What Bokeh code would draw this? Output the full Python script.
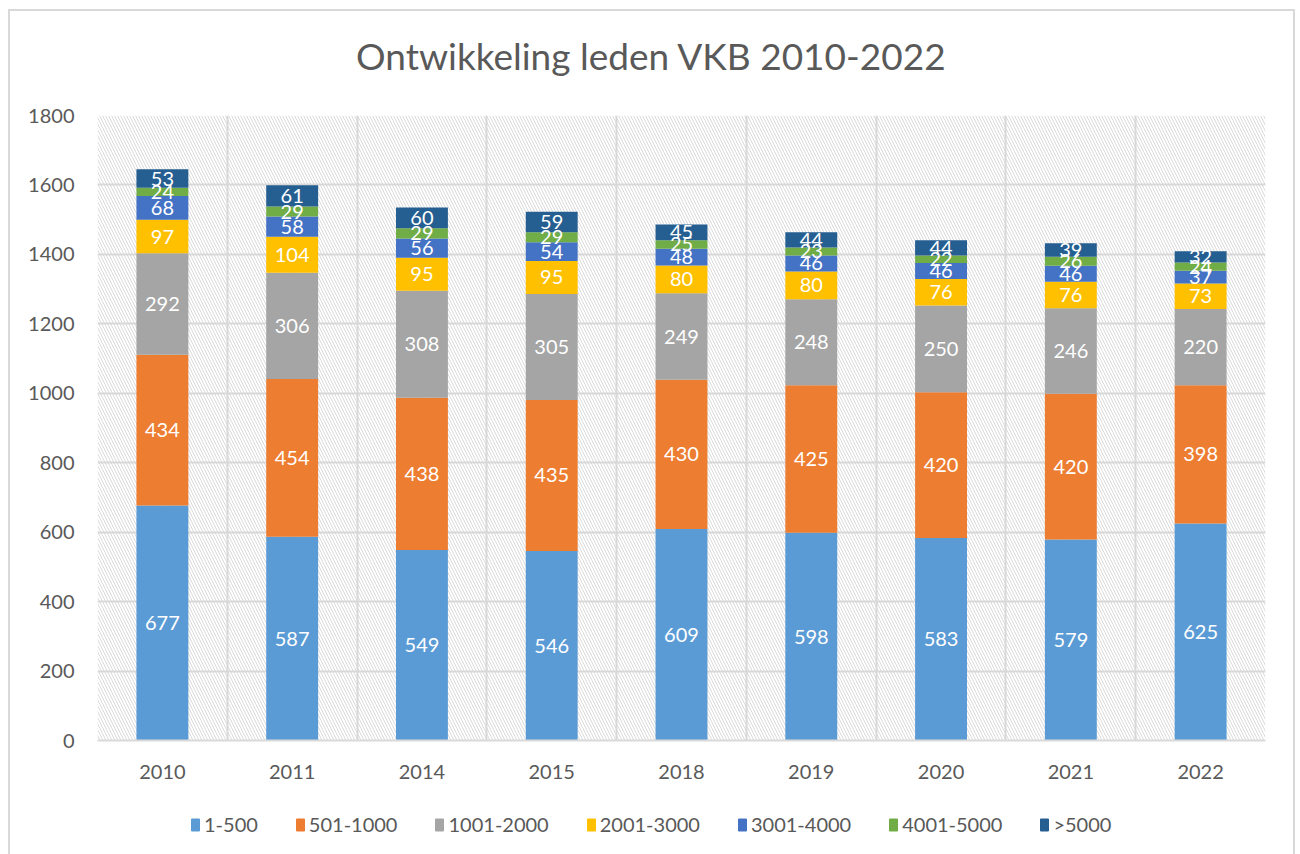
from bokeh.plotting import figure
from bokeh.layouts import column
from bokeh.models import ColumnDataSource, FixedTicker, Legend, LegendItem, Label
from bokeh.core.properties import value
from bokeh.embed import file_html
from bokeh.resources import INLINE

years = ["2010", "2011", "2014", "2015", "2018", "2019", "2020", "2021", "2022"]
series = ["1-500", "501-1000", "1001-2000", "2001-3000", "3001-4000", "4001-5000", ">5000"]
v_1_500 = [677, 587, 549, 546, 609, 598, 583, 579, 625]
v_501_1000 = [434, 454, 438, 435, 430, 425, 420, 420, 398]
v_1001_2000 = [292, 306, 308, 305, 249, 248, 250, 246, 220]
v_2001_3000 = [97, 104, 95, 95, 80, 80, 76, 76, 73]
v_3001_4000 = [68, 58, 56, 54, 48, 46, 46, 46, 37]
v_4001_5000 = [24, 29, 29, 29, 25, 23, 22, 26, 24]
v_gt_5000 = [53, 61, 60, 59, 45, 44, 44, 39, 32]
colors = ["#5B9BD5", "#ED7D31", "#A5A5A5", "#FFC000", "#4472C4", "#70AD47", "#255E91"]
yticks = [0, 200, 400, 600, 800, 1000, 1200, 1400, 1600, 1800]
title_text = "Ontwikkeling leden VKB 2010-2022"

values = [v_1_500, v_501_1000, v_1001_2000, v_2001_3000, v_3001_4000, v_4001_5000, v_gt_5000]
FONT = "Lato"
GRAY = "#595959"
W = 1283

xs = [i + 0.5 for i in range(len(years))]
data = {"x": xs}
keys = []
for k, (name, vals) in enumerate(zip(series, values)):
    key = f"s{k}"
    keys.append(key)
    data[key] = vals
src = ColumnDataSource(data)

# title strip
tf = figure(width=W, height=80, x_range=(0, 1), y_range=(0, 1),
            output_backend="svg", toolbar_location=None,
            x_axis_location=None, y_axis_location=None,
            min_border_left=0, min_border_right=0, min_border_top=0, min_border_bottom=0,
            outline_line_color=None, background_fill_color="white")
tf.grid.visible = False
tf.add_layout(Label(x=554, y=36, x_units="screen", y_units="screen", text=title_text,
                    text_align="center", text_baseline="middle",
                    text_font=FONT, text_font_size="37px", text_color=GRAY))

p = figure(width=W, height=704, x_range=(0, len(years)), y_range=(0, 1800),
           output_backend="svg", toolbar_location=None,
           min_border_left=87, min_border_right=28, min_border_top=24, min_border_bottom=55,
           outline_line_color=None, background_fill_color="white")

# hatched plot area background
p.quad(left=[0], right=[len(years)], bottom=[0], top=[1800], fill_alpha=0, line_alpha=0,
       hatch_pattern="\\", hatch_color="#d6d6d6", hatch_scale=6, hatch_weight=1, hatch_alpha=0.9)

renderers = p.vbar_stack(keys, x="x", width=0.4, source=src, color=colors, line_color=None)

# labels
lx, ly, lt = [], [], []
for i in range(len(years)):
    base = 0
    for vals in values:
        lx.append(xs[i])
        ly.append(base + vals[i] / 2)
        lt.append(str(vals[i]))
        base += vals[i]
p.text(x=lx, y=ly, text=lt, text_align="center", text_baseline="middle",
       text_color="white", text_font=value(FONT), text_font_size="20px")

p.xaxis.ticker = FixedTicker(ticks=xs)
p.xaxis.major_label_overrides = {x: y for x, y in zip(xs, years)}
p.yaxis.ticker = FixedTicker(ticks=yticks)
p.xgrid.ticker = FixedTicker(ticks=list(range(len(years) + 1)))
p.ygrid.ticker = FixedTicker(ticks=yticks)
for g in (p.xgrid, p.ygrid):
    g.grid_line_color = "#d9d9d9"
    g.grid_line_width = 2

for ax in (p.xaxis, p.yaxis):
    ax.major_label_text_font = FONT
    ax.major_label_text_font_size = "20px"
    ax.major_label_text_color = GRAY
    ax.major_tick_line_color = None
    ax.minor_tick_line_color = None
p.xaxis.axis_line_color = "#d9d9d9"
p.xaxis.axis_line_width = 2
p.xaxis.major_label_standoff = 18
p.yaxis.axis_line_color = None
p.yaxis.major_label_standoff = 17

# legend strip
lf = figure(width=W, height=62, x_range=(0, 1), y_range=(0, 1),
            output_backend="svg", toolbar_location=None,
            x_axis_location=None, y_axis_location=None,
            min_border_left=0, min_border_right=0, min_border_top=0, min_border_bottom=0,
            outline_line_color=None, background_fill_color="white")
lf.grid.visible = False
lrs = [lf.vbar(x=[-5], top=[0], width=0.1, color=c) for c in colors]
items = [LegendItem(label=s, renderers=[r]) for s, r in zip(series, lrs)]
legend = Legend(items=items, orientation="horizontal", location=(93, 21),
                label_text_font=FONT, label_text_font_size="20px", label_text_color=GRAY,
                glyph_width=10, glyph_height=15, label_standoff=4, spacing=37,
                border_line_color=None, background_fill_alpha=0, margin=0, padding=10)
lf.add_layout(legend, "center")

layout = column(tf, p, lf, spacing=0,
                styles={"border": "2px solid #d9d9d9", "margin-left": "8px", "margin-top": "9px"})

open("out.html", "w").write(file_html(layout, INLINE))
